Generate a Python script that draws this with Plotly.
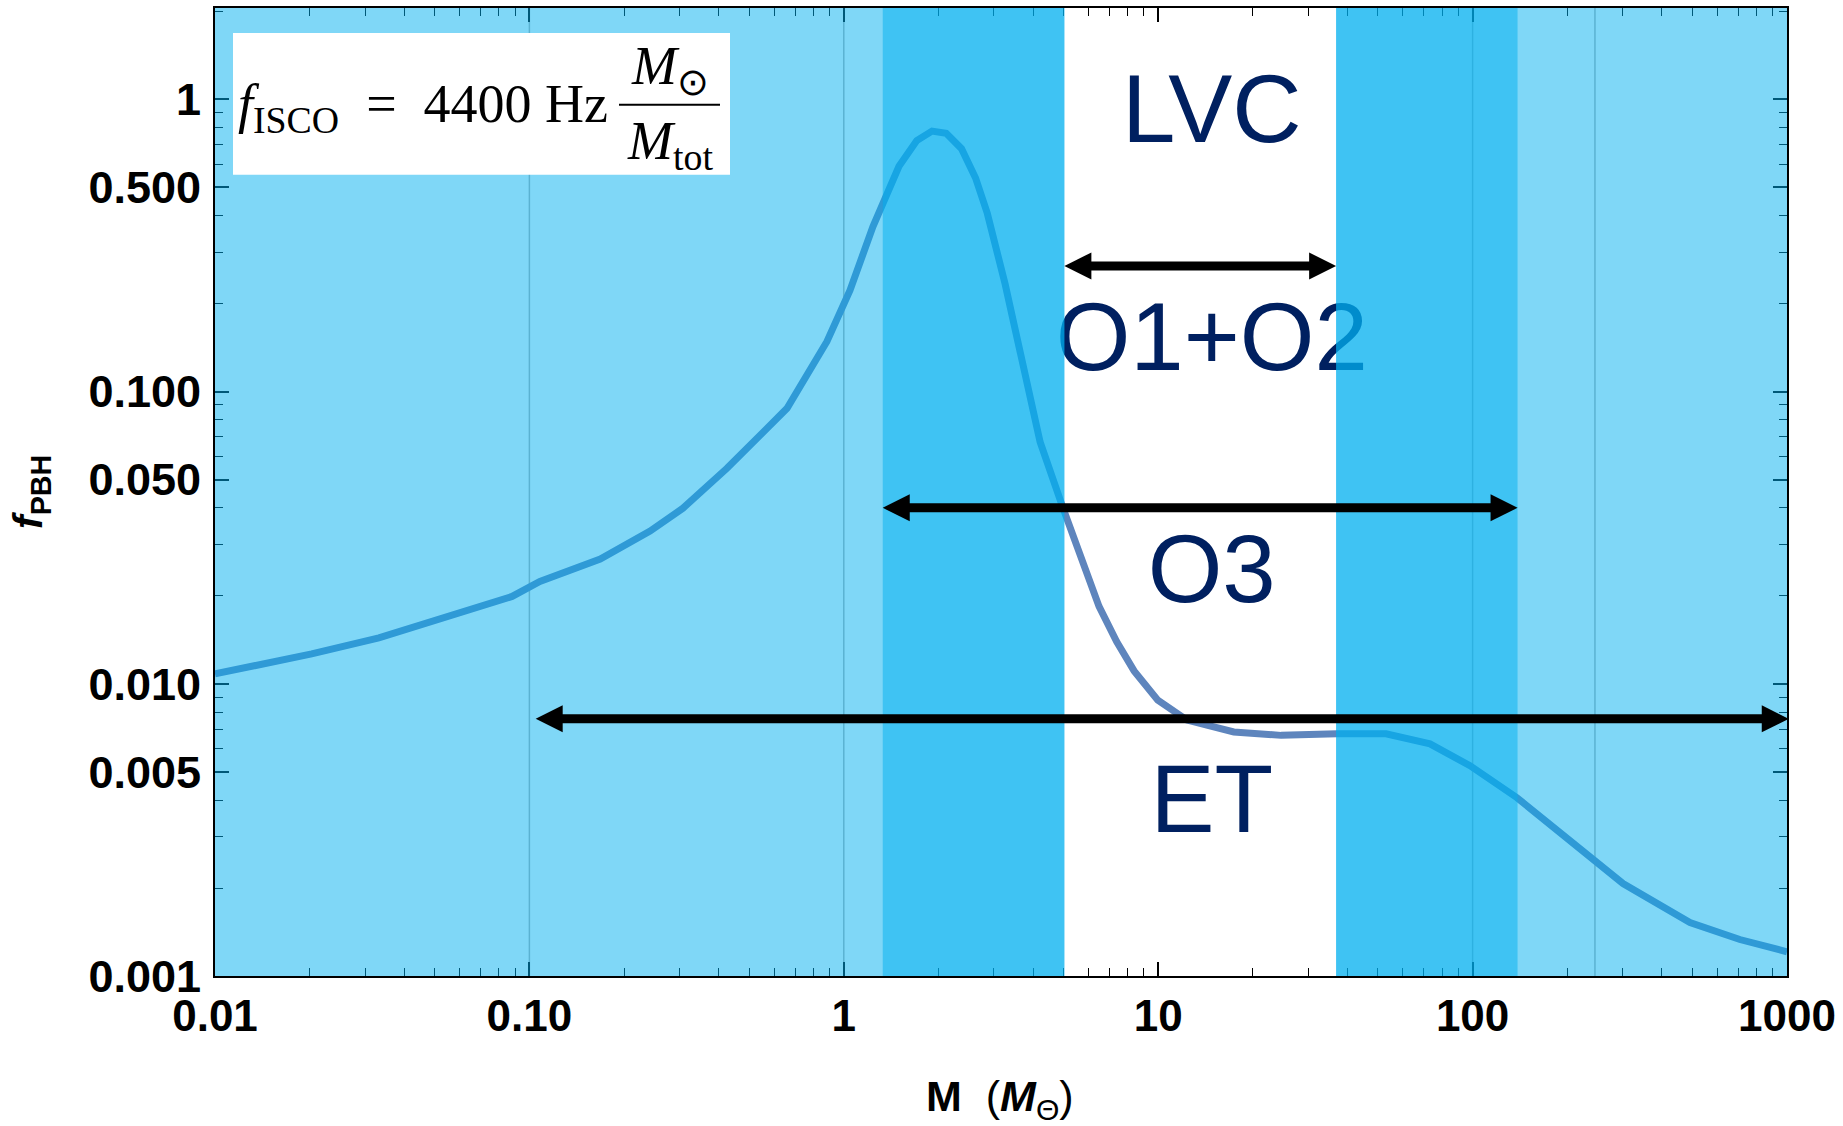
import plotly.graph_objects as go

# f_PBH(M) curve, M in solar masses
mass_msun = [0.0100, 0.0203, 0.0332, 0.0523, 0.0881, 0.108, 0.168, 0.242, 0.308, 0.425,
             0.660, 0.884, 0.994, 1.046, 1.238, 1.498, 1.707, 1.908, 2.117, 2.368,
             2.625, 2.860, 3.257, 3.705, 4.211, 4.981, 5.698, 6.483, 7.374, 8.380,
             9.970, 12.35, 17.40, 24.60, 37.05, 53.04, 73.19, 98.10, 138.4, 176.3,
             241.5, 300.9, 491.4, 708.0, 1000]
f_pbh = [0.01081, 0.01265, 0.01435, 0.01666, 0.0199, 0.0224, 0.02671, 0.03330, 0.03990, 0.05464,
         0.08762, 0.1484, 0.1924, 0.222, 0.3667, 0.590, 0.723, 0.779, 0.765, 0.678,
         0.538, 0.4075, 0.234, 0.1225, 0.0672, 0.0399, 0.0266, 0.0184, 0.01394, 0.01107,
         0.00879, 0.00751, 0.00684, 0.00666, 0.006742, 0.006742, 0.006231, 0.005243, 0.004075, 0.003295,
         0.002483, 0.002072, 0.001524, 0.001333, 0.00121]

# axis ticks
x_tickvals = [0.01, 0.1, 1, 10, 100, 1000]
x_ticktext = ["0.01", "0.10", "1", "10", "100", "1000"]
y_tickvals = [0.001, 0.005, 0.01, 0.05, 0.1, 0.5, 1]
y_ticktext = ["0.001", "0.005", "0.010", "0.050", "0.100", "0.500", "1"]

# shaded mass windows (M_sun); inner windows stack on the outer ones
outer_bands = [(0.01, 5.03), (36.8, 1000)]
inner_bands = [(1.33, 5.03), (36.8, 139)]

# range arrows
arrow_m_min = [5.03, 1.33, 0.1047]
arrow_m_max = [36.8, 139, 1013]
arrow_f = [0.269, 0.040, 0.00759]

# run / detector labels
label_text = ["LVC", "O1+O2", "O3", "ET"]
label_m = [14.8, 14.8, 14.8, 14.8]
label_f = [0.864, 0.1427, 0.0230, 0.003765]

# thin vertical guide lines
guide_lines = [0.1, 1, 100, 245]

W, H = 1843, 1126
ML, MR, MT, MB = 215, 56, 6, 150
PW, PH = W - ML - MR, H - MT - MB
X_DECADES = 5.0


def px(x):
    return (x - ML) / PW


def py(y):
    return (H - MB - y) / PH


SKY = "#00B0F0"
NAVY = "#002060"
CURVE = "#5E85BD"

fig = go.Figure()

fig.add_trace(go.Scatter(
    x=mass_msun, y=f_pbh, mode="lines",
    line=dict(color=CURVE, width=7), hoverinfo="skip", showlegend=False,
))

fig.add_trace(go.Scatter(
    x=label_m, y=label_f, mode="text", text=label_text,
    textposition="middle center",
    textfont=dict(family="Liberation Sans, Arial, sans-serif", size=96, color=NAVY),
    hoverinfo="skip", showlegend=False,
))

shapes = []
for g in guide_lines:
    shapes.append(dict(type="line", xref="x", yref="paper", x0=g, x1=g, y0=0, y1=1,
                       line=dict(color="#B4B4B4", width=1.5), layer="below"))
for lo, hi in outer_bands + inner_bands:
    shapes.append(dict(type="rect", xref="x", yref="paper", x0=lo, x1=hi, y0=0, y1=1,
                       fillcolor=SKY, opacity=0.5, line=dict(width=0), layer="above"))

# double-headed arrows: shaft plus two triangular heads sized in pixels
HEAD_LEN, HEAD_HALF, SHAFT_W = 27, 13.5, 9
inset = 10 ** (0.75 * HEAD_LEN * X_DECADES / PW)
for lo, hi, fv in zip(arrow_m_min, arrow_m_max, arrow_f):
    shapes.append(dict(type="line", xref="x", yref="y", x0=lo * inset, x1=hi / inset,
                       y0=fv, y1=fv, line=dict(color="black", width=SHAFT_W), layer="above"))
    shapes.append(dict(type="path", xref="x", yref="y", xsizemode="pixel", ysizemode="pixel",
                       xanchor=lo, yanchor=fv,
                       path=f"M0,0 L{HEAD_LEN},{HEAD_HALF} L{HEAD_LEN},{-HEAD_HALF} Z",
                       fillcolor="black", line=dict(width=0), layer="above"))
    shapes.append(dict(type="path", xref="x", yref="y", xsizemode="pixel", ysizemode="pixel",
                       xanchor=hi, yanchor=fv,
                       path=f"M0,0 L{-HEAD_LEN},{HEAD_HALF} L{-HEAD_LEN},{-HEAD_HALF} Z",
                       fillcolor="black", line=dict(width=0), layer="above"))

# formula box
shapes.append(dict(type="rect", xref="paper", yref="paper",
                   x0=px(233), x1=px(730), y0=py(173), y1=py(31),
                   fillcolor="white", line=dict(width=0), layer="above"))
shapes.append(dict(type="line", xref="paper", yref="paper",
                   x0=px(619), x1=px(720), y0=py(103), y1=py(103),
                   line=dict(color="black", width=2), layer="above"))

annotations = []
SERIF = "Liberation Serif, Times New Roman, serif"
annotations.append(dict(
    xref="paper", yref="paper", x=px(236), y=py(106), xanchor="left", yanchor="middle",
    text="<i>f</i><sub>ISCO</sub>&nbsp;&nbsp;=&nbsp;&nbsp;4400 Hz", showarrow=False,
    font=dict(family=SERIF, size=54, color="black"),
))
annotations.append(dict(
    xref="paper", yref="paper", x=px(670), y=py(68), xanchor="center", yanchor="middle",
    text="<i>M</i><sub>\u2299</sub>", showarrow=False,
    font=dict(family=SERIF, size=54, color="black"),
))
annotations.append(dict(
    xref="paper", yref="paper", x=px(670), y=py(143), xanchor="center", yanchor="middle",
    text="<i>M</i><sub>tot</sub>", showarrow=False,
    font=dict(family=SERIF, size=54, color="black"),
))

SANS = "Liberation Sans, Arial, sans-serif"
annotations.append(dict(
    xref="paper", yref="paper", x=px(1000), y=py(1099), xanchor="center", yanchor="middle",
    text="<b>M</b>&nbsp;&nbsp;(<b><i>M</i></b><sub>\u0398</sub>)", showarrow=False,
    font=dict(family=SANS, size=43, color="black"),
))
annotations.append(dict(
    xref="paper", yref="paper", x=px(31), y=py(491), xanchor="center", yanchor="middle",
    text="<b><i>f</i><sub>PBH</sub></b>", showarrow=False, textangle=-90,
    font=dict(family=SANS, size=41, color="black"),
))

common_axis = dict(
    type="log", tickmode="array", ticks="inside", ticklen=14, tickwidth=1.5,
    tickcolor="black", showline=True, linecolor="black", linewidth=2,
    mirror="ticks", showgrid=False, zeroline=False,
    minor=dict(ticks="inside", ticklen=8, tickwidth=1, tickcolor="black",
               dtick="D1", showgrid=False),
)

fig.update_layout(
    width=W, height=H, autosize=False,
    margin=dict(l=ML, r=MR, t=MT, b=MB),
    paper_bgcolor="white", plot_bgcolor="white",
    xaxis=dict(range=[-2, 3], tickvals=x_tickvals, ticktext=x_ticktext,
               tickfont=dict(family=SANS, size=44, color="black", weight="bold"),
               **common_axis),
    yaxis=dict(range=[-3, 0.3126], tickvals=y_tickvals, ticktext=y_ticktext,
               tickfont=dict(family=SANS, size=45, color="black", weight="bold"),
               ticklabelstandoff=3, **common_axis),
    shapes=shapes, annotations=annotations, showlegend=False,
)

fig.write_html("out.html")
